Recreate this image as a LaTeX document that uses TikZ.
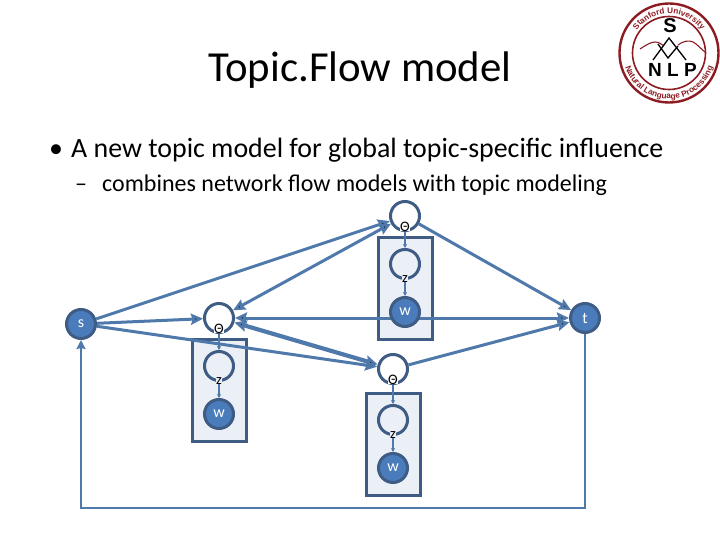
\documentclass[tikz,border=0pt]{standalone}
\usepackage{fontspec}
\setmainfont{Carlito}
\newfontfamily\logofont{Liberation Sans}
\usetikzlibrary{arrows.meta,positioning,decorations.text}
\definecolor{edgeblue}{HTML}{4F79AB}
\definecolor{ringblue}{HTML}{3F5C85}
\definecolor{fillblue}{HTML}{4A7BBB}
\definecolor{plateblue}{HTML}{EBF0F7}
\definecolor{logored}{HTML}{8C1C22}
\pgfdeclarelayer{plates}
\pgfdeclarelayer{edges}
\pgfsetlayers{plates,edges,main}
\tikzset{
  var/.style={circle,draw=ringblue,line width=3pt,minimum size=29pt,inner sep=0pt},
  hidden/.style={var,fill=white},
  inplate/.style={var,fill=plateblue},
  observed/.style={var,fill=fillblue,text=white,font=\fontsize{16}{16}\selectfont},
  plate/.style={draw=ringblue,fill=plateblue,line width=3pt,minimum width=54pt,minimum height=102pt,inner sep=0pt},
  varlabel/.style={inner sep=0pt,font=\fontsize{14.5}{14.5}\selectfont},
  flow/.style={draw=edgeblue,line width=3pt},
  thickflow/.style={draw=edgeblue,line width=4.2pt},
  inner/.style={draw=edgeblue,line width=2.2pt},
  ringtext/.style={decorate,decoration={text along path,text align=center,
    text={|\logofont\bfseries\fontsize{8.2}{9}\selectfont\color{logored}|#1}}}
}
\begin{document}
\begin{tikzpicture}[x=1pt,y=-1pt,>={Stealth[length=12pt,width=11pt,inset=1.5pt]}]
  \useasboundingbox (0,0) rectangle (720,540);

  \node[anchor=base] (title) at (360,82) {\fontsize{42.8}{43}\selectfont Topic.Flow model};
  \node[anchor=base west,inner sep=0pt] (bul) at (49,158) {\fontsize{27.9}{28}\selectfont •};
  \node[anchor=base west,inner sep=0pt] (line1) at (71,158) {\fontsize{27.9}{28}\selectfont A new topic model for global topic-specific influence};
  \node[anchor=base west,inner sep=0pt] (dash) at (75,192) {\fontsize{24}{24}\selectfont –};
  \node[anchor=base west,inner sep=0pt] (line2) at (102,192) {\fontsize{24}{24}\selectfont combines network flow models with topic modeling};

  % model
  \node[observed] (s) at (81,324) {s};
  \node[observed] (t) at (585,318) {t};

  \node[hidden] (theta1) at (219,318) {};
  \node[inplate] (z1) [below of=theta1,node distance=48pt] {};
  \node[observed] (w1) [below of=z1,node distance=48pt] {w};

  \node[hidden] (theta2) at (405,216) {};
  \node[inplate] (z2) [below of=theta2,node distance=48pt] {};
  \node[observed] (w2) [below of=z2,node distance=48pt] {w};

  \node[hidden] (theta3) at (393,369) {};
  \node[inplate] (z3) [below of=theta3,node distance=51pt] {};
  \node[observed] (w3) [below of=z3,node distance=48pt] {w};

  \begin{pgfonlayer}{plates}
    \node[plate] (plate1) at (219.5,390.5) {};
    \node[plate] (plate2) at (405.5,288.5) {};
    \node[plate] (plate3) at (393.5,444.5) {};
  \end{pgfonlayer}

  \coordinate (corner1) at (585,508);
  \coordinate (corner2) at (81,508);

  \begin{pgfonlayer}{edges}
    \path[->,flow]
        (s) edge (theta1)
            edge (theta2)
            edge (theta3)
        (theta2) edge (t)
        (theta3) edge (t);
    \path[<->,flow]
        (theta1) edge (theta2)
                 edge (t);
    \path[<->,thickflow] (theta1) edge (theta3);
    \path[-{Stealth[length=4pt,width=4pt]},inner]
        (theta1) edge (z1) (z1) edge (w1)
        (theta2) edge (z2) (z2) edge (w2)
        (theta3) edge (z3) (z3) edge (w3);
    \draw[-{Stealth[length=9pt,width=9pt,inset=1pt]},draw=edgeblue,line width=2.4pt] (t) -- (corner1) -- (corner2) -- (s);
  \end{pgfonlayer}

  \node[varlabel,fill=white] (thetalabel1) [below of=theta1,node distance=10.5pt] {Θ};
  \node[varlabel,fill=white] (thetalabel2) [below of=theta2,node distance=10.5pt] {Θ};
  \node[varlabel,fill=white] (thetalabel3) [below of=theta3,node distance=10.5pt] {Θ};
  \node[varlabel,fill=plateblue] (zlabel1) [below of=z1,node distance=15pt] {z};
  \node[varlabel,fill=plateblue] (zlabel2) [below of=z2,node distance=15pt] {z};
  \node[varlabel,fill=plateblue] (zlabel3) [below of=z3,node distance=15pt] {z};

  % logo
  \begin{scope}[shift={(669,53)},x=1pt,y=1pt]
    \draw[logored,line width=2.4pt] (0,0) circle (49.5);
    \draw[logored,line width=1.6pt] (0,0) circle (36.5);
    \path[ringtext={Stanford University}] (150:39.5) arc (150:30:39.5);
    \path[ringtext={Natural Language Processing}] (184:46) arc (184:356:46);
    \node[font=\logofont\bfseries\fontsize{20}{20}\selectfont,inner sep=0pt] (logoS) at (1,27) {S};
    \node[font=\logofont\bfseries\fontsize{19}{19}\selectfont,inner sep=0pt] (logoN) at (3.5,-17) {N L P};
    \draw[logored,line width=1.1pt] (-29,4) .. controls (-23,8) and (-18,11) .. (-14,11) .. controls (-10,11) and (-8,9) .. (-5,7);
    \draw[logored,line width=1.1pt] (9,8) .. controls (14,12) and (20,13) .. (24,11) .. controls (28,9) and (32,4) .. (36,1);
    \draw[black,line width=1.3pt] (-16,-7) -- (0,15) -- (17,-7);
    \draw[black,line width=1.3pt] (-11,9) -- (-1,-5) -- (9,7);
  \end{scope}
\end{tikzpicture}
\end{document}
